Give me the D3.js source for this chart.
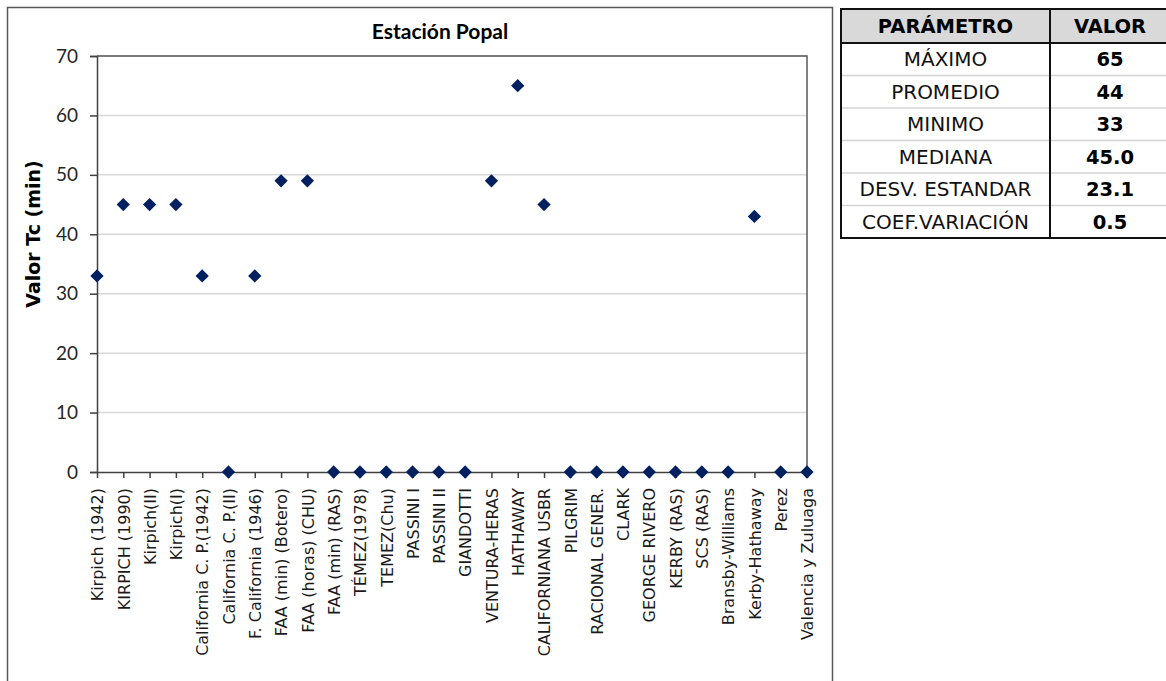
<!DOCTYPE html>
<html>
<head>
<meta charset="utf-8">
<script src="https://cdn.jsdelivr.net/npm/d3@7"></script>
<style>
	body { margin: 0; background: #fff; }
	svg { display: block; }
</style>
</head>
<body>
<svg id="chart"></svg>
<script>
// datos de la estacion
let categorias = ["Kirpich (1942)", "KIRPICH (1990)", "Kirpich(II)", "Kirpich(I)", "California C. P.(1942)",
	"California C. P.(II)", "F. California (1946)", "FAA (min) (Botero)", "FAA (horas) (CHU)", "FAA (min) (RAS)",
	"TÉMEZ(1978)", "TEMEZ(Chu)", "PASSINI I", "PASSINI II", "GIANDOTTI", "VENTURA-HERAS", "HATHAWAY",
	"CALIFORNIANA USBR", "PILGRIM", "RACIONAL GENER.", "CLARK", "GEORGE RIVERO", "KERBY (RAS)", "SCS (RAS)",
	"Bransby-Williams", "Kerby-Hathaway", "Perez", "Valencia y Zuluaga"];
let valoresTc = [33, 45, 45, 45, 33, 0, 33, 49, 49, 0, 0, 0, 0, 0, 0, 49, 65, 45, 0, 0, 0, 0, 0, 0, 0, 43, 0, 0];
let yTicks = [0, 10, 20, 30, 40, 50, 60, 70];

let parametros = ["MÁXIMO", "PROMEDIO", "MINIMO", "MEDIANA", "DESV. ESTANDAR", "COEF.VARIACIÓN"];
let valoresTabla = ["65", "44", "33", "45.0", "23.1", "0.5"];

function makeChart() {
	let w = 1166;
	let h = 681;

	let plotL = 97;
	let plotR = 807;
	let plotT = 56;
	let plotB = 472;

	let svg = d3.select('#chart')
		.attr('width', w)
		.attr('height', h);

	// marco del grafico
	svg.append('rect')
		.attr('x', 7.5)
		.attr('y', 7.5)
		.attr('width', 825)
		.attr('height', 700)
		.attr('fill', 'none')
		.attr('stroke', '#5a5a5a')
		.attr('stroke-width', 1.5);

	let xScale = d3.scalePoint()
		.domain(categorias)
		.range([plotL, plotR])
		.padding(0);

	let yScale = d3.scaleLinear()
		.domain([0, 70])
		.range([plotB, plotT]);

	// grid
	svg.append('g')
		.selectAll('line')
		.data(yTicks.filter(d => d > 0))
		.enter()
		.append('line')
		.attr('x1', plotL)
		.attr('x2', plotR)
		.attr('y1', d => yScale(d))
		.attr('y2', d => yScale(d))
		.attr('stroke', '#d9d9d9')
		.attr('stroke-width', 1.5);

	// borde superior y derecho del area
	svg.append('path')
		.attr('d', `M${plotL},${plotT}H${plotR}V${plotB}`)
		.attr('fill', 'none')
		.attr('stroke', '#595959')
		.attr('stroke-width', 1.5);

	//AXES
	let yAxis = d3.axisLeft(yScale)
		.tickValues(yTicks)
		.tickSize(7)
		.tickPadding(12);

	let gy = svg.append('g')
		.attr('transform', `translate(${plotL},0)`)
		.call(yAxis);
	gy.selectAll('path, line').attr('stroke', '#404040').attr('stroke-width', 1.5);
	gy.selectAll('text')
		.attr('fill', '#262626')
		.style('font-family', 'Lato, "Open Sans", sans-serif')
		.style('font-size', '19px');

	let xAxis = d3.axisBottom(xScale)
		.tickSize(6)
		.tickSizeOuter(0);

	let gx = svg.append('g')
		.attr('transform', `translate(0,${plotB})`)
		.call(xAxis);
	gx.selectAll('path, line').attr('stroke', '#404040').attr('stroke-width', 1.5);
	gx.selectAll('text')
		.attr('fill', '#1a1a1a')
		.style('font-family', '"DejaVu Sans", Verdana, sans-serif')
		.style('font-size', '16px')
		.attr('text-anchor', 'end')
		.attr('transform', 'rotate(-90)')
		.attr('x', -16)
		.attr('y', 0)
		.attr('dy', '0.36em');

	// puntos
	svg.append('g')
		.selectAll('path')
		.data(valoresTc)
		.enter()
		.append('path')
		.attr('d', d3.symbol().type(d3.symbolSquare).size(88))
		.attr('transform', (d, i) => `translate(${xScale(categorias[i])},${yScale(d)}) rotate(45)`)
		.attr('fill', '#002060');

	// LABELS
	svg.append('text')
		.attr('x', 440)
		.attr('y', 39)
		.attr('text-anchor', 'middle')
		.style('font-family', 'Lato, sans-serif')
		.style('font-weight', 'bold')
		.style('font-size', '21px')
		.attr('fill', '#000')
		.text('Estación Popal');

	svg.append('text')
		.attr('transform', 'rotate(-90)')
		.attr('x', -234)
		.attr('y', 40)
		.attr('text-anchor', 'middle')
		.style('font-family', '"DejaVu Sans", Verdana, sans-serif')
		.style('font-weight', 'bold')
		.style('font-size', '19px')
		.attr('fill', '#000')
		.text('Valor Tc (min)');

	makeTable(svg);
}

function makeTable(svg) {
	let tL = 841;
	let tSplit = 1050;
	let tR = 1172;
	let tT = 9;
	let headH = 34;
	let rowH = 32.5;
	let tB = tT + headH + rowH * parametros.length;

	svg.append('rect')
		.attr('x', tL)
		.attr('y', tT)
		.attr('width', tR - tL)
		.attr('height', headH)
		.attr('fill', '#d9d9d9');

	// lineas de filas
	svg.append('g')
		.selectAll('line')
		.data(parametros.slice(1))
		.enter()
		.append('line')
		.attr('x1', tL)
		.attr('x2', tR)
		.attr('y1', (d, i) => tT + headH + rowH * (i + 1))
		.attr('y2', (d, i) => tT + headH + rowH * (i + 1))
		.attr('stroke', '#d4d4d4')
		.attr('stroke-width', 1.5);

	svg.append('line')
		.attr('x1', tL).attr('x2', tR)
		.attr('y1', tT + headH).attr('y2', tT + headH)
		.attr('stroke', '#111').attr('stroke-width', 2);

	svg.append('line')
		.attr('x1', tSplit).attr('x2', tSplit)
		.attr('y1', tT).attr('y2', tB)
		.attr('stroke', '#111').attr('stroke-width', 2);

	svg.append('rect')
		.attr('x', tL)
		.attr('y', tT)
		.attr('width', tR - tL)
		.attr('height', tB - tT)
		.attr('fill', 'none')
		.attr('stroke', '#111')
		.attr('stroke-width', 2);

	let font = '"DejaVu Sans", Verdana, sans-serif';
	let c1 = (tL + tSplit) / 2;
	let c2 = 1110;

	svg.append('text')
		.attr('x', c1).attr('y', tT + headH / 2)
		.attr('dy', '0.36em')
		.attr('text-anchor', 'middle')
		.style('font-family', font).style('font-weight', 'bold').style('font-size', '19.5px')
		.text('PARÁMETRO');

	svg.append('text')
		.attr('x', c2).attr('y', tT + headH / 2)
		.attr('dy', '0.36em')
		.attr('text-anchor', 'middle')
		.style('font-family', font).style('font-weight', 'bold').style('font-size', '19.5px')
		.text('VALOR');

	svg.append('g')
		.selectAll('text')
		.data(parametros)
		.enter()
		.append('text')
		.attr('x', c1)
		.attr('y', (d, i) => tT + headH + rowH * i + rowH / 2)
		.attr('dy', '0.36em')
		.attr('text-anchor', 'middle')
		.style('font-family', font).style('font-size', '20px')
		.attr('fill', '#111')
		.text(d => d);

	svg.append('g')
		.selectAll('text')
		.data(valoresTabla)
		.enter()
		.append('text')
		.attr('x', c2)
		.attr('y', (d, i) => tT + headH + rowH * i + rowH / 2)
		.attr('dy', '0.36em')
		.attr('text-anchor', 'middle')
		.style('font-family', font).style('font-weight', 'bold').style('font-size', '19.5px')
		.attr('fill', '#000')
		.text(d => d);
}

window.onload = function () {
	makeChart();
}
</script>
</body>
</html>
